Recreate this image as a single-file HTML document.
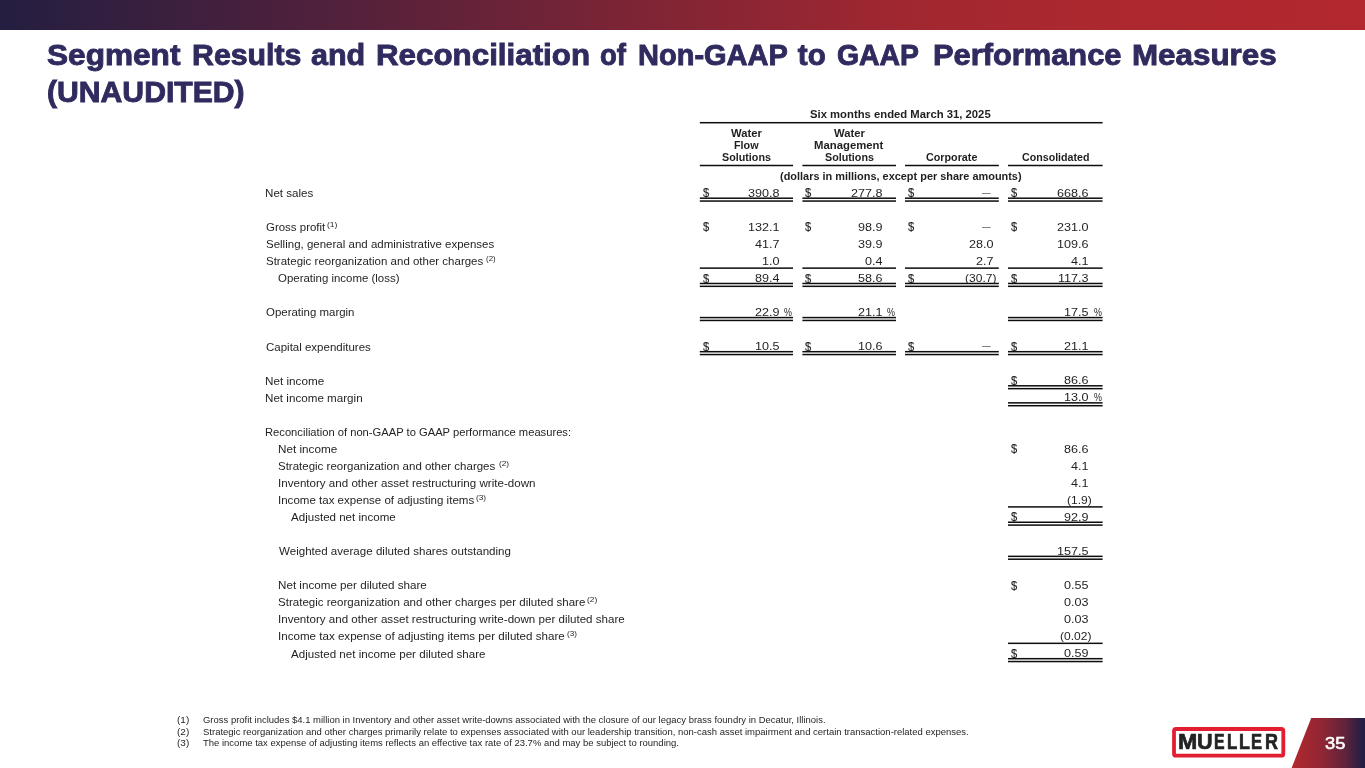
<!DOCTYPE html>
<html lang="en"><head><meta charset="utf-8"><title>Segment Results and Reconciliation of Non-GAAP to GAAP Performance Measures (UNAUDITED)</title>
<style>
html,body{margin:0;padding:0;}
body{width:1365px;height:768px;position:relative;overflow:hidden;background:#fff;font-family:"Liberation Sans",sans-serif;color:#1f1f1f;}
.t{position:absolute;white-space:pre;line-height:1;transform-origin:0 0;}
#rules{position:absolute;left:0;top:0;}
#topbar{position:absolute;left:0;top:0;width:1365px;height:30px;background:linear-gradient(90deg,rgb(36,30,65) 0%,rgb(84,33,59) 25.6%,rgb(133,37,52) 50.5%,rgb(160,39,48) 66%,rgb(172,40,47) 80%,rgb(178,40,46) 100%);}
#pg{position:absolute;left:1285px;top:718px;width:80px;height:50px;background:linear-gradient(90deg,rgb(180,40,46) 8%,rgb(140,38,52) 48.7%,rgb(95,35,59) 75.6%,rgb(60,32,64) 87.5%,rgb(39,31,67) 96%);clip-path:polygon(26.2px 0,80px 0,80px 50px,6.6px 50px);}
</style></head><body>
<div id="topbar"></div>
<div id="pg"></div>
<svg id="rules" width="1365" height="768" viewBox="0 0 1365 768" fill="#0d0d0d">
<rect x="1174.0" y="729.0" width="109.3" height="26.7" rx="2" ry="2" fill="#fff" stroke="#e21f32" stroke-width="3.8"/>
<rect x="699.8" y="121.95" width="402.8" height="1.5"/>
<rect x="699.8" y="164.75" width="93.2" height="1.5"/>
<rect x="802.4" y="164.75" width="93.6" height="1.5"/>
<rect x="905.0" y="164.75" width="93.8" height="1.5"/>
<rect x="1008.0" y="164.75" width="94.6" height="1.5"/>
<rect x="699.8" y="197.45" width="93.2" height="1.5"/>
<rect x="699.8" y="200.30" width="93.2" height="1.5"/>
<rect x="802.4" y="197.45" width="93.6" height="1.5"/>
<rect x="802.4" y="200.30" width="93.6" height="1.5"/>
<rect x="905.0" y="197.45" width="93.8" height="1.5"/>
<rect x="905.0" y="200.30" width="93.8" height="1.5"/>
<rect x="1008.0" y="197.45" width="94.6" height="1.5"/>
<rect x="1008.0" y="200.30" width="94.6" height="1.5"/>
<rect x="699.8" y="267.38" width="93.2" height="1.5"/>
<rect x="699.8" y="282.73" width="93.2" height="1.5"/>
<rect x="699.8" y="285.58" width="93.2" height="1.5"/>
<rect x="802.4" y="267.38" width="93.6" height="1.5"/>
<rect x="802.4" y="282.73" width="93.6" height="1.5"/>
<rect x="802.4" y="285.58" width="93.6" height="1.5"/>
<rect x="905.0" y="267.38" width="93.8" height="1.5"/>
<rect x="905.0" y="282.73" width="93.8" height="1.5"/>
<rect x="905.0" y="285.58" width="93.8" height="1.5"/>
<rect x="1008.0" y="267.38" width="94.6" height="1.5"/>
<rect x="1008.0" y="282.73" width="94.6" height="1.5"/>
<rect x="1008.0" y="285.58" width="94.6" height="1.5"/>
<rect x="699.8" y="316.83" width="93.2" height="1.5"/>
<rect x="699.8" y="319.69" width="93.2" height="1.5"/>
<rect x="802.4" y="316.83" width="93.6" height="1.5"/>
<rect x="802.4" y="319.69" width="93.6" height="1.5"/>
<rect x="1008.0" y="316.83" width="94.6" height="1.5"/>
<rect x="1008.0" y="319.69" width="94.6" height="1.5"/>
<rect x="699.8" y="350.94" width="93.2" height="1.5"/>
<rect x="699.8" y="353.80" width="93.2" height="1.5"/>
<rect x="802.4" y="350.94" width="93.6" height="1.5"/>
<rect x="802.4" y="353.80" width="93.6" height="1.5"/>
<rect x="905.0" y="350.94" width="93.8" height="1.5"/>
<rect x="905.0" y="353.80" width="93.8" height="1.5"/>
<rect x="1008.0" y="350.94" width="94.6" height="1.5"/>
<rect x="1008.0" y="353.80" width="94.6" height="1.5"/>
<rect x="1008.0" y="385.05" width="94.6" height="1.5"/>
<rect x="1008.0" y="387.90" width="94.6" height="1.5"/>
<rect x="1008.0" y="402.11" width="94.6" height="1.5"/>
<rect x="1008.0" y="404.96" width="94.6" height="1.5"/>
<rect x="1008.0" y="506.15" width="94.6" height="1.5"/>
<rect x="1008.0" y="521.50" width="94.6" height="1.5"/>
<rect x="1008.0" y="524.35" width="94.6" height="1.5"/>
<rect x="1008.0" y="555.60" width="94.6" height="1.5"/>
<rect x="1008.0" y="558.45" width="94.6" height="1.5"/>
<rect x="1008.0" y="642.59" width="94.6" height="1.5"/>
<rect x="1008.0" y="657.94" width="94.6" height="1.5"/>
<rect x="1008.0" y="660.79" width="94.6" height="1.5"/>
</svg>
<div class="g" id="title"><span class="t" style="left:47.08px;top:40.04px;font-size:29.6px;font-weight:700;color:#2f2b5f;transform:scaleX(1.0675);-webkit-text-stroke:0.9px #2f2b5f;">Segment</span> <span class="t" style="left:192.00px;top:40.04px;font-size:29.6px;font-weight:700;color:#2f2b5f;transform:scaleX(1.0236);-webkit-text-stroke:0.9px #2f2b5f;">Results</span> <span class="t" style="left:311.08px;top:40.04px;font-size:29.6px;font-weight:700;color:#2f2b5f;transform:scaleX(1.0300);-webkit-text-stroke:0.9px #2f2b5f;">and</span> <span class="t" style="left:375.73px;top:40.04px;font-size:29.6px;font-weight:700;color:#2f2b5f;transform:scaleX(1.0584);-webkit-text-stroke:0.9px #2f2b5f;">Reconciliation</span> <span class="t" style="left:600.39px;top:40.04px;font-size:29.6px;font-weight:700;color:#2f2b5f;transform:scaleX(0.9308);-webkit-text-stroke:0.9px #2f2b5f;">of</span> <span class="t" style="left:638.29px;top:40.04px;font-size:29.6px;font-weight:700;color:#2f2b5f;transform:scaleX(0.9803);-webkit-text-stroke:0.9px #2f2b5f;">Non-GAAP</span> <span class="t" style="left:797.80px;top:40.04px;font-size:29.6px;font-weight:700;color:#2f2b5f;-webkit-text-stroke:0.9px #2f2b5f;">to</span> <span class="t" style="left:836.95px;top:40.04px;font-size:29.6px;font-weight:700;color:#2f2b5f;transform:scaleX(0.9598);-webkit-text-stroke:0.9px #2f2b5f;">GAAP</span> <span class="t" style="left:933.27px;top:40.04px;font-size:29.6px;font-weight:700;color:#2f2b5f;transform:scaleX(1.0416);-webkit-text-stroke:0.9px #2f2b5f;">Performance</span> <span class="t" style="left:1132.43px;top:40.04px;font-size:29.6px;font-weight:700;color:#2f2b5f;transform:scaleX(1.0597);-webkit-text-stroke:0.9px #2f2b5f;">Measures</span> <span class="t" style="left:47.02px;top:77.24px;font-size:29.6px;font-weight:700;color:#2f2b5f;transform:scaleX(1.0188);-webkit-text-stroke:0.9px #2f2b5f;">(UNAUDITED)</span></div>
<span class="t" style="left:810.47px;top:108.89px;font-size:10.6px;font-weight:700;transform:scaleX(1.0655);">Six months ended March 31, 2025</span>
<span class="t" style="left:731.00px;top:128.39px;font-size:10.6px;font-weight:700;transform:scaleX(1.0621);">Water</span>
<span class="t" style="left:733.79px;top:140.44px;font-size:10.6px;font-weight:700;transform:scaleX(1.0194);">Flow</span>
<span class="t" style="left:721.94px;top:152.49px;font-size:10.6px;font-weight:700;transform:scaleX(1.0138);">Solutions</span>
<span class="t" style="left:833.80px;top:128.39px;font-size:10.6px;font-weight:700;transform:scaleX(1.0621);">Water</span>
<span class="t" style="left:814.15px;top:140.44px;font-size:10.6px;font-weight:700;transform:scaleX(1.0703);">Management</span>
<span class="t" style="left:824.74px;top:152.49px;font-size:10.6px;font-weight:700;transform:scaleX(1.0138);">Solutions</span>
<span class="t" style="left:926.14px;top:152.49px;font-size:10.6px;font-weight:700;transform:scaleX(1.0151);">Corporate</span>
<span class="t" style="left:1021.60px;top:152.49px;font-size:10.6px;font-weight:700;transform:scaleX(1.0061);">Consolidated</span>
<span class="t" style="left:780.18px;top:171.29px;font-size:10.6px;font-weight:700;transform:scaleX(1.0311);">(dollars in millions, except per share amounts)</span>
<span class="t" style="left:265.38px;top:188.04px;font-size:10.6px;transform:scaleX(1.0953);">Net sales</span>
<span class="t" style="left:265.66px;top:222.15px;font-size:10.6px;transform:scaleX(1.0820);">Gross profit</span>
<span class="t" style="left:327.25px;top:222.15px;font-size:6.6px;transform:scaleX(1.2966);">(1)</span>
<span class="t" style="left:265.66px;top:239.21px;font-size:10.6px;transform:scaleX(1.0858);">Selling, general and administrative expenses</span>
<span class="t" style="left:265.66px;top:256.26px;font-size:10.6px;transform:scaleX(1.0851);">Strategic reorganization and other charges</span>
<span class="t" style="left:485.80px;top:256.26px;font-size:6.6px;transform:scaleX(1.2000);">(2)</span>
<span class="t" style="left:278.26px;top:273.32px;font-size:10.6px;transform:scaleX(1.0804);">Operating income (loss)</span>
<span class="t" style="left:265.66px;top:307.43px;font-size:10.6px;transform:scaleX(1.0811);">Operating margin</span>
<span class="t" style="left:265.66px;top:341.54px;font-size:10.6px;transform:scaleX(1.0851);">Capital expenditures</span>
<span class="t" style="left:265.37px;top:375.64px;font-size:10.6px;transform:scaleX(1.1043);">Net income</span>
<span class="t" style="left:265.38px;top:392.70px;font-size:10.6px;transform:scaleX(1.0983);">Net income margin</span>
<span class="t" style="left:265.41px;top:426.81px;font-size:10.6px;transform:scaleX(1.0557);">Reconciliation of non-GAAP to GAAP performance measures:</span>
<span class="t" style="left:277.97px;top:443.87px;font-size:10.6px;transform:scaleX(1.1062);">Net income</span>
<span class="t" style="left:278.26px;top:460.92px;font-size:10.6px;transform:scaleX(1.0851);">Strategic reorganization and other charges</span>
<span class="t" style="left:498.57px;top:460.92px;font-size:6.6px;transform:scaleX(1.2552);">(2)</span>
<span class="t" style="left:277.71px;top:477.98px;font-size:10.6px;transform:scaleX(1.0930);">Inventory and other asset restructuring write-down</span>
<span class="t" style="left:277.71px;top:495.03px;font-size:10.6px;transform:scaleX(1.0887);">Income tax expense of adjusting items</span>
<span class="t" style="left:475.57px;top:495.03px;font-size:6.6px;transform:scaleX(1.2552);">(3)</span>
<span class="t" style="left:291.30px;top:512.09px;font-size:10.6px;transform:scaleX(1.0911);">Adjusted net income</span>
<span class="t" style="left:278.80px;top:546.19px;font-size:10.6px;transform:scaleX(1.0919);">Weighted average diluted shares outstanding</span>
<span class="t" style="left:277.98px;top:580.31px;font-size:10.6px;transform:scaleX(1.0987);">Net income per diluted share</span>
<span class="t" style="left:278.26px;top:597.36px;font-size:10.6px;transform:scaleX(1.0897);">Strategic reorganization and other charges per diluted share</span>
<span class="t" style="left:586.57px;top:597.36px;font-size:6.6px;transform:scaleX(1.2690);">(2)</span>
<span class="t" style="left:277.71px;top:614.41px;font-size:10.6px;transform:scaleX(1.0924);">Inventory and other asset restructuring write-down per diluted share</span>
<span class="t" style="left:277.71px;top:631.47px;font-size:10.6px;transform:scaleX(1.0940);">Income tax expense of adjusting items per diluted share</span>
<span class="t" style="left:566.89px;top:631.47px;font-size:6.6px;transform:scaleX(1.2276);">(3)</span>
<span class="t" style="left:291.30px;top:648.53px;font-size:10.6px;transform:scaleX(1.0939);">Adjusted net income per diluted share</span>
<span class="t" style="left:748.37px;top:187.72px;font-size:11.5px;transform:scaleX(1.0950);">390.8</span>
<span class="t" style="left:702.67px;top:187.34px;font-size:12.3px;transform:scaleX(0.9077);-webkit-text-stroke:0.15px #1f1f1f;">$</span>
<span class="t" style="left:851.07px;top:187.72px;font-size:11.5px;transform:scaleX(1.0950);">277.8</span>
<span class="t" style="left:805.27px;top:187.34px;font-size:12.3px;transform:scaleX(0.9077);-webkit-text-stroke:0.15px #1f1f1f;">$</span>
<span class="t" style="left:981.97px;top:186.72px;font-size:11.5px;color:#5a5a5a;transform:scaleX(0.7500);">—</span>
<span class="t" style="left:907.87px;top:187.34px;font-size:12.3px;transform:scaleX(0.9077);-webkit-text-stroke:0.15px #1f1f1f;">$</span>
<span class="t" style="left:1057.27px;top:187.72px;font-size:11.5px;transform:scaleX(1.0950);">668.6</span>
<span class="t" style="left:1010.87px;top:187.34px;font-size:12.3px;transform:scaleX(0.9077);-webkit-text-stroke:0.15px #1f1f1f;">$</span>
<span class="t" style="left:748.37px;top:221.84px;font-size:11.5px;transform:scaleX(1.0950);">132.1</span>
<span class="t" style="left:702.67px;top:221.46px;font-size:12.3px;transform:scaleX(0.9077);-webkit-text-stroke:0.15px #1f1f1f;">$</span>
<span class="t" style="left:858.18px;top:221.84px;font-size:11.5px;transform:scaleX(1.0950);">98.9</span>
<span class="t" style="left:805.27px;top:221.46px;font-size:12.3px;transform:scaleX(0.9077);-webkit-text-stroke:0.15px #1f1f1f;">$</span>
<span class="t" style="left:981.97px;top:220.84px;font-size:11.5px;color:#5a5a5a;transform:scaleX(0.7500);">—</span>
<span class="t" style="left:907.87px;top:221.46px;font-size:12.3px;transform:scaleX(0.9077);-webkit-text-stroke:0.15px #1f1f1f;">$</span>
<span class="t" style="left:1057.27px;top:221.84px;font-size:11.5px;transform:scaleX(1.0950);">231.0</span>
<span class="t" style="left:1010.87px;top:221.46px;font-size:12.3px;transform:scaleX(0.9077);-webkit-text-stroke:0.15px #1f1f1f;">$</span>
<span class="t" style="left:755.48px;top:238.89px;font-size:11.5px;transform:scaleX(1.0950);">41.7</span>
<span class="t" style="left:858.18px;top:238.89px;font-size:11.5px;transform:scaleX(1.0950);">39.9</span>
<span class="t" style="left:969.11px;top:238.89px;font-size:11.5px;transform:scaleX(1.0950);">28.0</span>
<span class="t" style="left:1057.27px;top:238.89px;font-size:11.5px;transform:scaleX(1.0950);">109.6</span>
<span class="t" style="left:762.33px;top:255.94px;font-size:11.5px;transform:scaleX(1.0950);">1.0</span>
<span class="t" style="left:864.75px;top:255.94px;font-size:11.5px;transform:scaleX(1.0950);">0.4</span>
<span class="t" style="left:976.23px;top:255.94px;font-size:11.5px;transform:scaleX(1.0950);">2.7</span>
<span class="t" style="left:1071.23px;top:255.94px;font-size:11.5px;transform:scaleX(1.0950);">4.1</span>
<span class="t" style="left:755.21px;top:273.00px;font-size:11.5px;transform:scaleX(1.0950);">89.4</span>
<span class="t" style="left:702.67px;top:272.62px;font-size:12.3px;transform:scaleX(0.9077);-webkit-text-stroke:0.15px #1f1f1f;">$</span>
<span class="t" style="left:857.91px;top:273.00px;font-size:11.5px;transform:scaleX(1.0950);">58.6</span>
<span class="t" style="left:805.27px;top:272.62px;font-size:12.3px;transform:scaleX(0.9077);-webkit-text-stroke:0.15px #1f1f1f;">$</span>
<span class="t" style="left:965.31px;top:273.00px;font-size:11.5px;transform:scaleX(1.0457);">(30.7)</span>
<span class="t" style="left:907.87px;top:272.62px;font-size:12.3px;transform:scaleX(0.9077);-webkit-text-stroke:0.15px #1f1f1f;">$</span>
<span class="t" style="left:1058.09px;top:273.00px;font-size:11.5px;transform:scaleX(1.0950);">117.3</span>
<span class="t" style="left:1010.87px;top:272.62px;font-size:12.3px;transform:scaleX(0.9077);-webkit-text-stroke:0.15px #1f1f1f;">$</span>
<span class="t" style="left:755.48px;top:307.11px;font-size:11.5px;transform:scaleX(1.0950);">22.9</span>
<span class="t" style="left:784.39px;top:308.05px;font-size:10.4px;transform:scaleX(0.8571);">%</span>
<span class="t" style="left:858.18px;top:307.11px;font-size:11.5px;transform:scaleX(1.0950);">21.1</span>
<span class="t" style="left:887.39px;top:308.05px;font-size:10.4px;transform:scaleX(0.8571);">%</span>
<span class="t" style="left:1064.11px;top:307.11px;font-size:11.5px;transform:scaleX(1.0950);">17.5</span>
<span class="t" style="left:1093.99px;top:308.05px;font-size:10.4px;transform:scaleX(0.8571);">%</span>
<span class="t" style="left:755.21px;top:341.22px;font-size:11.5px;transform:scaleX(1.0950);">10.5</span>
<span class="t" style="left:702.67px;top:340.84px;font-size:12.3px;transform:scaleX(0.9077);-webkit-text-stroke:0.15px #1f1f1f;">$</span>
<span class="t" style="left:857.91px;top:341.22px;font-size:11.5px;transform:scaleX(1.0950);">10.6</span>
<span class="t" style="left:805.27px;top:340.84px;font-size:12.3px;transform:scaleX(0.9077);-webkit-text-stroke:0.15px #1f1f1f;">$</span>
<span class="t" style="left:981.97px;top:340.22px;font-size:11.5px;color:#5a5a5a;transform:scaleX(0.7500);">—</span>
<span class="t" style="left:907.87px;top:340.84px;font-size:12.3px;transform:scaleX(0.9077);-webkit-text-stroke:0.15px #1f1f1f;">$</span>
<span class="t" style="left:1064.38px;top:341.22px;font-size:11.5px;transform:scaleX(1.0950);">21.1</span>
<span class="t" style="left:1010.87px;top:340.84px;font-size:12.3px;transform:scaleX(0.9077);-webkit-text-stroke:0.15px #1f1f1f;">$</span>
<span class="t" style="left:1064.11px;top:375.33px;font-size:11.5px;transform:scaleX(1.0950);">86.6</span>
<span class="t" style="left:1010.87px;top:374.95px;font-size:12.3px;transform:scaleX(0.9077);-webkit-text-stroke:0.15px #1f1f1f;">$</span>
<span class="t" style="left:1064.11px;top:392.39px;font-size:11.5px;transform:scaleX(1.0950);">13.0</span>
<span class="t" style="left:1093.99px;top:393.32px;font-size:10.4px;transform:scaleX(0.8571);">%</span>
<span class="t" style="left:1064.11px;top:443.55px;font-size:11.5px;transform:scaleX(1.0950);">86.6</span>
<span class="t" style="left:1010.87px;top:443.17px;font-size:12.3px;transform:scaleX(0.9077);-webkit-text-stroke:0.15px #1f1f1f;">$</span>
<span class="t" style="left:1071.23px;top:460.61px;font-size:11.5px;transform:scaleX(1.0950);">4.1</span>
<span class="t" style="left:1071.23px;top:477.66px;font-size:11.5px;transform:scaleX(1.0950);">4.1</span>
<span class="t" style="left:1066.85px;top:494.72px;font-size:11.5px;transform:scaleX(1.0457);">(1.9)</span>
<span class="t" style="left:1064.38px;top:511.77px;font-size:11.5px;transform:scaleX(1.0950);">92.9</span>
<span class="t" style="left:1010.87px;top:511.39px;font-size:12.3px;transform:scaleX(0.9077);-webkit-text-stroke:0.15px #1f1f1f;">$</span>
<span class="t" style="left:1057.27px;top:545.88px;font-size:11.5px;transform:scaleX(1.0950);">157.5</span>
<span class="t" style="left:1064.11px;top:579.99px;font-size:11.5px;transform:scaleX(1.0950);">0.55</span>
<span class="t" style="left:1010.87px;top:579.61px;font-size:12.3px;transform:scaleX(0.9077);-webkit-text-stroke:0.15px #1f1f1f;">$</span>
<span class="t" style="left:1064.11px;top:597.05px;font-size:11.5px;transform:scaleX(1.0950);">0.03</span>
<span class="t" style="left:1064.11px;top:614.10px;font-size:11.5px;transform:scaleX(1.0950);">0.03</span>
<span class="t" style="left:1060.31px;top:631.16px;font-size:11.5px;transform:scaleX(1.0457);">(0.02)</span>
<span class="t" style="left:1064.38px;top:648.21px;font-size:11.5px;transform:scaleX(1.0950);">0.59</span>
<span class="t" style="left:1010.87px;top:647.83px;font-size:12.3px;transform:scaleX(0.9077);-webkit-text-stroke:0.15px #1f1f1f;">$</span>
<span class="t" style="left:177.34px;top:716.15px;font-size:9.0px;transform:scaleX(1.1100);">(1)</span>
<span class="t" style="left:202.87px;top:716.15px;font-size:9.0px;transform:scaleX(1.0529);">Gross profit includes $4.1 million in Inventory and other asset write-downs associated with the closure of our legacy brass foundry in Decatur, Illinois.</span>
<span class="t" style="left:177.34px;top:727.75px;font-size:9.0px;transform:scaleX(1.1100);">(2)</span>
<span class="t" style="left:202.87px;top:727.75px;font-size:9.0px;transform:scaleX(1.0549);">Strategic reorganization and other charges primarily relate to expenses associated with our leadership transition, non-cash asset impairment and certain transaction-related expenses.</span>
<span class="t" style="left:177.34px;top:739.35px;font-size:9.0px;transform:scaleX(1.1100);">(3)</span>
<span class="t" style="left:203.14px;top:739.35px;font-size:9.0px;transform:scaleX(1.0539);">The income tax expense of adjusting items reflects an effective tax rate of 23.7% and may be subject to rounding.</span>
<div class="g" id="brand"><span class="t" style="left:1177.56px;top:731.17px;font-size:22.5px;font-weight:700;color:#232323;transform:scaleX(1.0286);-webkit-text-stroke:0.7px #232323;">M</span><span class="t" style="left:1197.30px;top:731.17px;font-size:22.5px;font-weight:700;color:#232323;transform:scaleX(0.9600);-webkit-text-stroke:0.7px #232323;">U</span><span class="t" style="left:1214.44px;top:731.17px;font-size:22.5px;font-weight:700;color:#232323;transform:scaleX(0.7059);-webkit-text-stroke:0.7px #232323;">E</span><span class="t" style="left:1227.18px;top:731.17px;font-size:22.5px;font-weight:700;color:#232323;transform:scaleX(0.7478);-webkit-text-stroke:0.7px #232323;">L</span><span class="t" style="left:1239.01px;top:731.17px;font-size:22.5px;font-weight:700;color:#232323;transform:scaleX(0.7913);-webkit-text-stroke:0.7px #232323;">L</span><span class="t" style="left:1251.49px;top:731.17px;font-size:22.5px;font-weight:700;color:#232323;transform:scaleX(0.7373);-webkit-text-stroke:0.7px #232323;">E</span><span class="t" style="left:1264.80px;top:731.17px;font-size:22.5px;font-weight:700;color:#232323;transform:scaleX(0.8000);-webkit-text-stroke:0.7px #232323;">R</span></div>
<span class="t" style="left:1324.85px;top:735.03px;font-size:16.2px;color:#ffffff;transform:scaleX(1.1273);-webkit-text-stroke:0.55px #fff;">35</span>
</body></html>
